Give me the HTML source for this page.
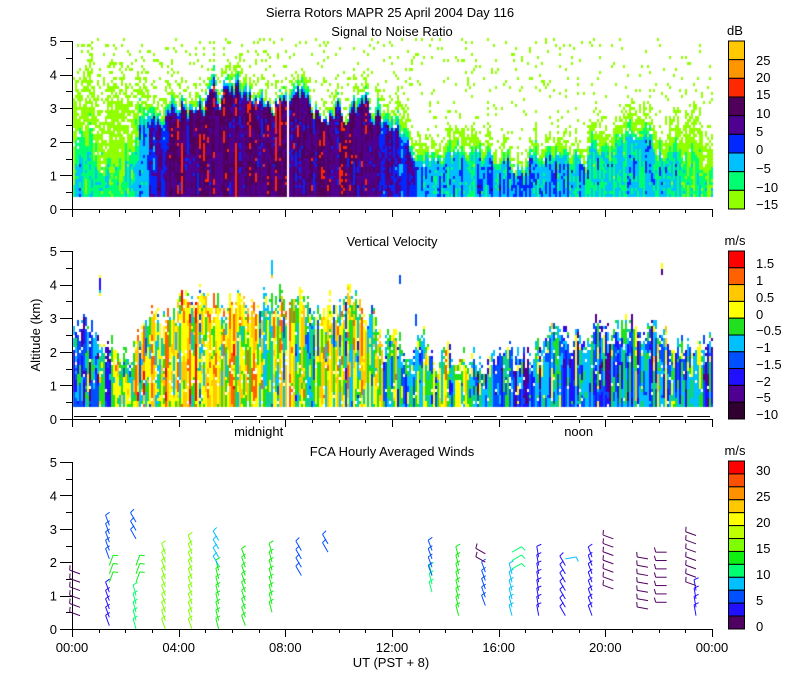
<!DOCTYPE html>
<html><head><meta charset="utf-8"><style>
html,body{margin:0;padding:0;background:#fff;}
#wrap{position:relative;width:800px;height:700px;overflow:hidden;}
canvas,svg{position:absolute;left:0;top:0;}
text{font-family:"Liberation Sans",sans-serif;font-size:13px;fill:#000;}
</style></head><body>
<div id="wrap">
<canvas id="cv" width="800" height="700"></canvas>
<svg id="sv" width="800" height="700"></svg>
</div>
<script>
// ---- data (hourly, 0..24 UT) ----
const hours = [0,1,2,3,4,5,6,7,8,9,10,11,12,13,14,15,16,17,18,19,20,21,22,23,24];
const snrBase = [-5,-6,-8,4,10,11,11,11,10,10,10,10,6,0,-2,-3,0,0,0,-3,-5,-5,-3,-8,-8];
const snrCore = [1.2,1.2,1.0,2.6,3.0,3.1,3.2,3.2,3.2,3.1,3.0,2.8,2.2,1.5,1.5,1.4,1.3,1.3,1.3,1.5,1.8,1.8,1.6,1.2,1.2];
const snrTop = [3.8,3.6,3.0,3.3,3.6,3.7,3.7,3.7,3.7,3.6,3.5,3.2,2.8,2.4,2.3,2.2,2.0,2.0,2.0,2.1,2.6,2.6,2.5,2.5,2.5];
const snrSpeckle = [0.12,0.12,0.12,0.1,0.1,0.1,0.1,0.1,0.1,0.1,0.1,0.09,0.08,0.07,0.06,0.06,0.05,0.05,0.05,0.05,0.05,0.05,0.05,0.05,0.05];
const vvTop = [2.7,2.5,2.0,2.8,3.4,3.5,3.5,3.5,3.5,3.4,3.4,3.3,2.2,2.1,2.0,1.8,1.6,1.8,2.2,2.3,2.6,2.6,2.4,2.3,2.0];
const vvMean = [-1.2,-1,0,0.3,0.3,0.3,0.3,0.2,0,0,0,-0.2,-0.4,-0.3,-0.3,-0.6,-1.2,-1.2,-0.8,-1,-0.9,-1,-0.6,-0.8,-1];
// wind segments: hour, z bottom, z top, speed (m/s), direction (deg)
const windHour = [0.3,1.4,1.4,1.4,2.4,2.4,2.4,3.5,4.5,5.5,5.5,6.5,7.5,8.6,9.6,13.5,13.5,14.5,15.5,15.5,16.5,16.5,17.5,18.5,18.5,19.5,20.3,21.6,22.3,23.4,23.4];
const windZ0 =   [0.4,0.1,1.4,2.1,0.0,1.4,2.7,0.0,0.0,0.0,1.9,0.1,0.5,1.6,2.3,1.1,1.6,0.4,0.7,2.0,0.4,1.8,0.4,0.4,2.1,0.4,1.2,0.6,0.8,0.4,1.3];
const windZ1 =   [1.8,1.1,1.9,3.1,1.1,1.9,3.2,2.3,2.5,1.9,2.7,2.3,2.3,2.5,2.7,1.6,2.4,2.2,1.9,2.4,1.8,2.3,2.3,2.1,2.3,2.3,2.8,2.3,2.3,1.3,2.9];
const windSpd =  [2,4,13,6,10,13,6,16,15,13,9,14,13,6,6,12,5,14,5,2,8,12,4,4,8,4,2,2,2,4,2];
const windDir =  [290,340,20,340,345,20,330,340,340,345,330,340,345,330,330,345,340,345,340,300,345,60,350,330,80,340,290,280,270,350,290];
// colour tables
const snrColors = ["#ffc800","#ff9600","#ff2800","#50005a","#500090","#0028ff","#00c0ff","#00ff70","#90ff00"];
const vvColors = ["#ff0000","#ff6000","#ffc800","#ffff00","#20e020","#00c0ff","#0050ff","#2010ff","#500090","#300030"];
const vvLabels = ["1.5","1","0.5","0","\u22120.5","\u22121","\u22121.5","\u22122","\u22125","\u221210"];
const wsColors = ["#ff0000","#ff5000","#ff9000","#ffc800","#ffff00","#c0ff00","#80ff00","#10f010","#00ff70","#00c0ff","#0050ff","#2010ff","#500060"];
const wsLabels = ["30","25","20","15","10","5","0"];
const timeLabels = ["00:00","04:00","08:00","12:00","16:00","20:00","00:00"];

// ---- axes ----
const X0=72,X1=712;
const xs=h=>X0+h*(X1-X0)/24;
const ys1=z=>209-z*33.6, ys2=z=>419-z*33.6, ys3=z=>629-z*33.4;
function interp(arr,h){const i=Math.max(0,Math.min(23,Math.floor(h)));const f=h-i;return arr[i]*(1-f)+arr[i+1]*f;}
function rng(seed){return function(){seed|=0;seed=seed+0x6D2B79F5|0;let t=Math.imul(seed^seed>>>15,1|seed);t=t+Math.imul(t^t>>>7,61|t)^t;return((t^t>>>14)>>>0)/4294967296;}}

const ctx=document.getElementById('cv').getContext('2d');
// SNR panel
(function(){const r=rng(7); let topJ=0;
 for(let x=73;x<712;x+=2){
  const h=(x-X0)/640*24; if(Math.abs(x-287)<2) continue;
  topJ=topJ*0.7+(r()-0.5)*0.9;
  const base=interp(snrBase,h),ct=interp(snrCore,h)+topJ*0.6,et=interp(snrTop,h)+topJ,sp=interp(snrSpeckle,h);
  const off=(r()-0.5)*8; let run=0;
  for(let y=ys1(0.35);y>ys1(5);y-=3){
   const z=(209-y)/33.6; let v=null;
   if(r()<0.3) run=(r()-0.5)*8;
   if(z<ct){v=base+off+run+(r()-0.5)*3;}
   else if(z<et){const f=(z-ct)/(et-ct); if(r()<f*0.45)continue; v=base+(-16-base)*Math.sqrt(f)+off*(1-f)+run*0.6;}
   else { if(r()<sp*(z<et+0.5?2.5:1)) v=-14; }
   if(v===null)continue;
   let idx=v>=25?0:Math.floor((25-v)/5)+1; idx=Math.max(0,Math.min(8,idx));
   ctx.fillStyle=snrColors[idx]; ctx.fillRect(x,Math.round(y-3),2,3);
  }}
})();
// VV panel
(function(){const r=rng(11); let topJ=0;
 for(let x=73;x<712;x+=2){
  const h=(x-X0)/640*24; if(Math.abs(x-287)<2) continue;
  topJ=topJ*0.6+(r()-0.5)*0.8;
  const et=interp(vvTop,h)+topJ,m=interp(vvMean,h); const off=(r()-0.5)*1.8; let run=0;
  const streak=r()<0.012; const sz=2+r()*2.5, sl=0.2+r()*0.6;
  for(let y=ys2(0.35);y>ys2(5);y-=3){
   const z=(419-y)/33.6; let v=null;
   if(r()<0.25) run=(r()-0.5)*1.6;
   if(z<et){ if(r()<0.04+(z>et-0.4?0.3:0))continue; v=m+off+run; }
   else if(streak && z>sz && z<sz+sl) v=m+run*2;
   if(v===null)continue;
   const b=[1.5,1,0.5,0,-0.5,-1,-1.5,-2,-5]; let idx=9;
   for(let k=0;k<b.length;k++){if(v>b[k]){idx=k;break;}}
   ctx.fillStyle=vvColors[idx]; ctx.fillRect(x,Math.round(y-3),2,3);
  }}
})();

const NS="http://www.w3.org/2000/svg", sv=document.getElementById('sv');
function el(tag,attrs,parent){const e=document.createElementNS(NS,tag);for(const k in attrs)e.setAttribute(k,attrs[k]);(parent||sv).appendChild(e);return e;}
function txt(s,x,y,anchor,name){const t=el('text',{x:x,y:y,'text-anchor':anchor||'start'});t.textContent=s;
 
 return t;}

txt("Sierra Rotors  MAPR 25 April 2004 Day 116",390,17,'middle','chart-title');
txt("Signal to Noise Ratio",392,36,'middle','snr-panel-title');
txt("Vertical Velocity",392,246,'middle','velocity-panel-title');
txt("FCA Hourly Averaged Winds",392,456,'middle','winds-panel-title');
const yl=txt("Altitude (km)",0,0,'middle','y-axis-title'); yl.setAttribute('transform','translate(40,335) rotate(-90)'); yl.setAttribute('font-size','12');
txt("UT  (PST + 8)",391,667,'middle','x-axis-title');

function panelAxes(ys,yb,name){
 const g=el('g',{stroke:'#000','stroke-width':1,fill:'none'});
 
 
 el('line',{x1:X0+0.5,y1:ys(5),x2:X0+0.5,y2:yb+0.5},g);
 el('line',{x1:X0,y1:yb+0.5,x2:X1+0.5,y2:yb+0.5},g);
 for(let k=0;k<=10;k++){const y=Math.round(ys(k/2))+0.5;el('line',{x1:X0-(k%2?6:12),y1:y,x2:X0,y2:y},g);}
 for(let h=0;h<=24;h++){const x=Math.round(xs(h))+0.5;el('line',{x1:x,y1:yb,x2:x,y2:yb+(h%4?4:8)},g);}
 for(let k=0;k<=5;k++){txt(String(k),57,ys(k)+5,'end',name+'-y-tick-'+k);}
}
panelAxes(ys1,209,'snr');
panelAxes(ys2,419,'velocity');
panelAxes(ys3,629,'winds');
(function(){const g=el('g',{stroke:'#000','stroke-width':1});
 
 
 for(let h=0;h<24;h++){el('line',{x1:xs(h)+2,y1:416.5,x2:xs(h+1)-2,y2:416.5},g);}})();
txt("midnight",xs(7),436,'middle','midnight-label');
txt("noon",xs(19),436,'middle','noon-label');
timeLabels.forEach((s,i)=>txt(s,xs(i*4),652,'middle','x-tick-'+i));

function colorbar(colors,top,bot,labels,labelYs,unit,name){
 const n=colors.length,hgt=(bot-top)/n;
 const g=el('g',{});
 
 
 colors.forEach((c,i)=>{el('rect',{x:728.5,y:top+i*hgt,width:16,height:hgt,fill:c,stroke:'#000','stroke-width':1},g);});
 labels.forEach((s,i)=>txt(s,756,labelYs[i]+5,'start',name+'-label-'+i));
 txt(unit,735,top-6,'middle',name+'-unit');
}
colorbar(snrColors,41,209,["25","20","15","10","5","0","\u22125","\u221210","\u221215"],[60,77,94,113,131,149,168,187,204],"dB",'snr-colorbar');
colorbar(vvColors,251,419,vvLabels,[263,280,297,314,330,347,364,381,397,414],"m/s",'velocity-colorbar');
colorbar(wsColors,461,629,wsLabels,[470,496,522,548,574,600,626],"m/s",'winds-colorbar');

// wind barbs
windHour.forEach((h,i)=>{
 const g=el('g',{stroke:wsColors[Math.max(0,Math.min(12,12-Math.floor(windSpd[i]/2.5)))],'stroke-width':1,fill:'none'});
 
 
 const d=windDir[i]*Math.PI/180, L=11;
 for(let z=windZ0[i];z<=windZ1[i]+1e-6;z+=0.25){
  const x=xs(h),y=ys3(z);
  const ex=x+Math.sin(d)*L, ey=y-Math.cos(d)*L;
  el('line',{x1:x,y1:y,x2:ex,y2:ey},g);
  const fd=d+Math.PI/2.4;
  el('line',{x1:ex,y1:ey,x2:ex+Math.sin(fd)*5,y2:ey-Math.cos(fd)*5},g);
 }
});
</script>
</body></html>
